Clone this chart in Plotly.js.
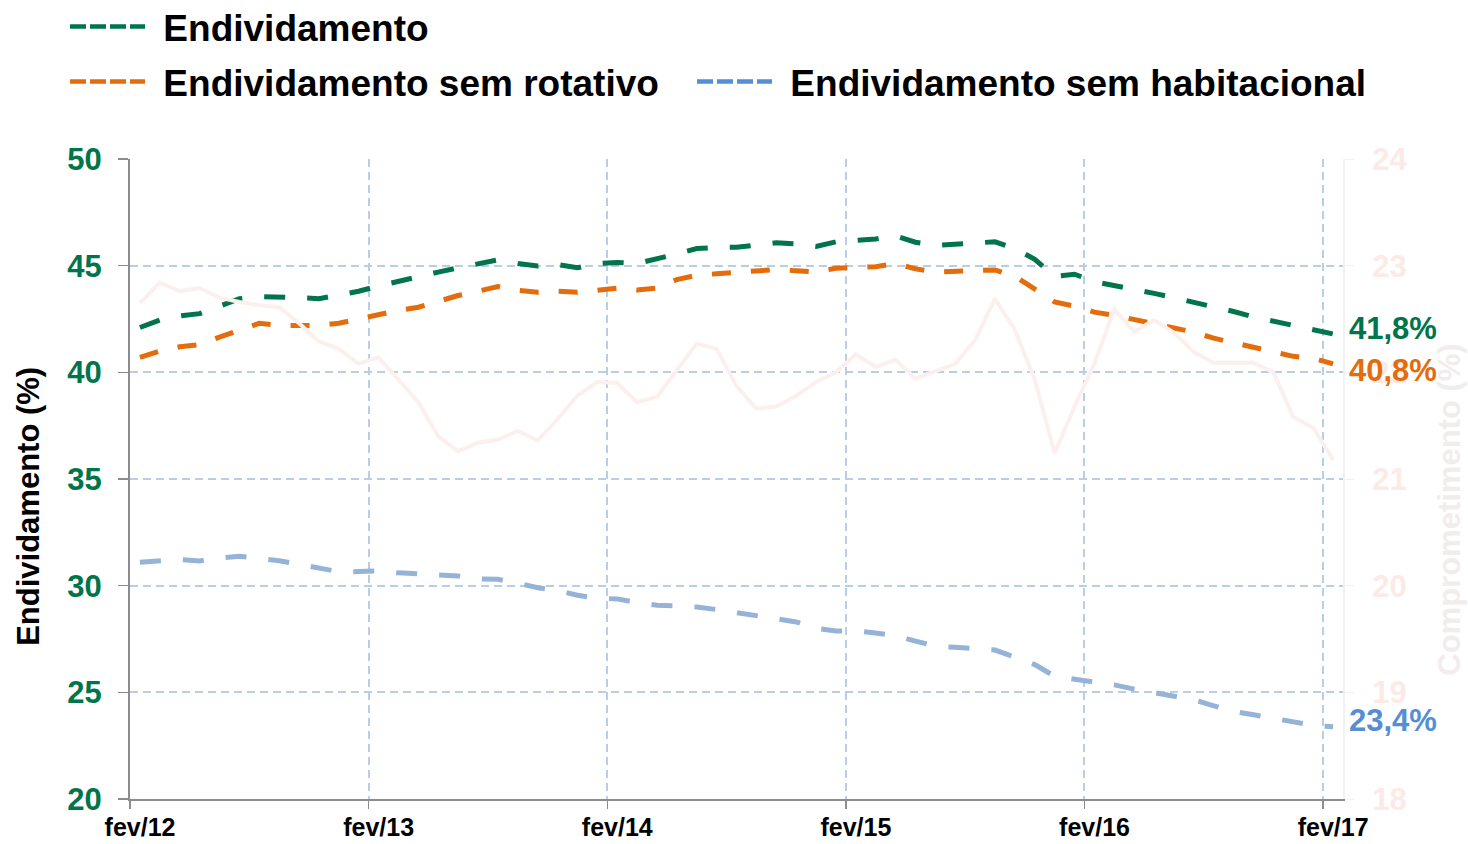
<!DOCTYPE html>
<html>
<head>
<meta charset="utf-8">
<script src="https://cdn.plot.ly/plotly-3.0.1.min.js"></script>
<style>
  html, body { margin: 0; padding: 0; background: #ffffff; }
  #chart { width: 1468px; height: 844px; }
</style>
</head>
<body>
<div id="chart"></div>
<script>
// ---- Data (monthly, fev/12 .. fev/17) ----
var tickLabels = ['fev/12', 'fev/13', 'fev/14', 'fev/15', 'fev/16', 'fev/17'];
var seriesNames = ['Endividamento', 'Endividamento sem rotativo', 'Endividamento sem habitacional', 'Comprometimento'];
var axisTitles = ['Endividamento (%)', 'Comprometimento (%)'];

var endividamento = [42.1, 42.45, 42.65, 42.75, 43.1, 43.45, 43.55, 43.55, 43.5, 43.45,
  43.6, 43.8, 44.05, 44.28, 44.45, 44.7, 44.9, 45.1, 45.27, 45.1,
  44.98, 45.05, 44.9, 45.1, 45.15, 45.1, 45.3, 45.55, 45.8, 45.86,
  45.86, 45.95, 46.07, 46.02, 45.9, 46.12, 46.2, 46.25, 46.4, 46.1,
  45.95, 46.0, 46.02, 46.12, 45.8, 45.3, 44.5, 44.6, 44.25, 44.08,
  43.9, 43.7, 43.5, 43.3, 43.05, 42.85, 42.6, 42.4, 42.15, 42.0, 41.8];

var semRotativo = [40.7, 41.0, 41.2, 41.3, 41.65, 42.0, 42.3, 42.2, 42.2, 42.2,
  42.3, 42.5, 42.72, 42.9, 43.05, 43.35, 43.6, 43.8, 44.02, 43.85,
  43.75, 43.8, 43.75, 43.85, 43.95, 43.86, 43.95, 44.35, 44.55, 44.62,
  44.67, 44.72, 44.82, 44.76, 44.7, 44.88, 44.91, 44.95, 45.1, 44.85,
  44.7, 44.73, 44.78, 44.8, 44.5, 43.9, 43.3, 43.1, 42.82, 42.67,
  42.5, 42.28, 42.08, 41.88, 41.6, 41.38, 41.12, 40.96, 40.75, 40.66, 40.4];

var semHabitacional = [31.1, 31.17, 31.22, 31.16, 31.3, 31.38, 31.3, 31.17, 31.0, 30.8,
  30.65, 30.66, 30.69, 30.6, 30.56, 30.52, 30.45, 30.32, 30.3, 30.12,
  29.9, 29.77, 29.55, 29.41, 29.38, 29.2, 29.08, 29.05, 29.0, 28.88,
  28.72, 28.6, 28.45, 28.3, 28.0, 27.88, 27.88, 27.78, 27.66, 27.4,
  27.17, 27.11, 27.06, 26.98, 26.65, 26.3, 25.75, 25.62, 25.52, 25.35,
  25.15, 24.98, 24.8, 24.65, 24.37, 24.1, 23.95, 23.8, 23.6, 23.45, 23.39];

var comprometimento = [22.65, 22.84, 22.76, 22.79, 22.7, 22.66, 22.63, 22.61, 22.46, 22.29,
  22.22, 22.08, 22.14, 21.93, 21.72, 21.4, 21.26, 21.34, 21.37, 21.45,
  21.36, 21.56, 21.78, 21.91, 21.9, 21.72, 21.77, 22.02, 22.27, 22.22,
  21.87, 21.66, 21.68, 21.78, 21.91, 22.0, 22.17, 22.05, 22.12, 21.94,
  22.01, 22.08, 22.3, 22.69, 22.4, 21.93, 21.24, 21.68, 22.08, 22.59,
  22.38, 22.49, 22.37, 22.19, 22.09, 22.09, 22.09, 22.0, 21.58, 21.48, 21.18];

var endLabels = ['41,8%', '40,8%', '23,4%'];

// ---- Build ----
var xIdx = endividamento.map(function (_, i) { return i; });
var tickPos = tickLabels.map(function (_, k) { return k * 12 - 0.5; });
var last = xIdx.length - 1;

var GREEN = '#00744A', ORANGE = '#E46C0A', BLUE_LINE = '#95B3D7', BLUE = '#558ED5', PINK = '#FBF0ED';
var GRID = '#B9CDE5';
var FONT = 'Liberation Sans, Arial, sans-serif';
var GAP = '\u00a0\u200a';

var traces = [
  { x: xIdx, y: comprometimento, yaxis: 'y2', mode: 'lines', name: seriesNames[3], showlegend: false,
    line: { color: PINK, width: 4 } },
  { x: xIdx, y: semHabitacional, mode: 'lines', name: seriesNames[2], showlegend: false,
    line: { color: BLUE_LINE, width: 5, dash: '21px,22px' } },
  { x: xIdx, y: semRotativo, mode: 'lines', name: seriesNames[1], showlegend: false,
    line: { color: ORANGE, width: 5, dash: '19px,20px' } },
  { x: xIdx, y: endividamento, mode: 'lines', name: seriesNames[0], showlegend: false,
    line: { color: GREEN, width: 5, dash: '21px,22px' } },
  // legend entries
  { x: [null], y: [null], mode: 'lines', name: GAP + seriesNames[0], legend: 'legend',
    line: { color: GREEN, width: 4.5, dash: '16px,4px' }, hoverinfo: 'skip' },
  { x: [null], y: [null], mode: 'lines', name: GAP + seriesNames[1], legend: 'legend2',
    line: { color: ORANGE, width: 4.5, dash: '16px,4px' }, hoverinfo: 'skip' },
  { x: [null], y: [null], mode: 'lines', name: GAP + seriesNames[2], legend: 'legend3',
    line: { color: BLUE, width: 4.5, dash: '16px,4px' }, hoverinfo: 'skip' }
];

var legendFont = { family: FONT, size: 37, color: '#000000', weight: 'bold' };
function leg(xpx, ypx) {
  return { x: (xpx - 130) / 1213, y: (799 - ypx) / 640, xanchor: 'left', yanchor: 'middle',
    orientation: 'h', font: legendFont, bgcolor: 'rgba(0,0,0,0)', itemwidth: 75 };
}

var layout = {
  width: 1468, height: 844,
  margin: { l: 130, r: 125, t: 159, b: 45, autoexpand: false },
  paper_bgcolor: '#ffffff', plot_bgcolor: '#ffffff',
  font: { family: FONT },
  showlegend: true,
  legend: leg(65, 27),
  legend2: leg(65, 82),
  legend3: leg(692, 82),
  xaxis: {
    range: [-0.5, 60.5], tickmode: 'array', tickvals: tickPos, ticktext: tickLabels,
    ticklabelshift: 10, ticklabelstandoff: -3,
    tickfont: { family: FONT, size: 25, color: '#000000', weight: 'bold' },
    showgrid: true, gridcolor: GRID, griddash: '8px,5px', gridwidth: 2,
    showline: true, linecolor: '#8C8C8C', linewidth: 2,
    ticks: 'outside', ticklen: 8, tickcolor: '#8C8C8C', tickwidth: 1.5,
    zeroline: false, fixedrange: true, automargin: false
  },
  yaxis: {
    range: [20, 50], dtick: 5, tick0: 20,
    tickfont: { family: FONT, size: 31, color: GREEN, weight: 'bold' },
    showgrid: true, gridcolor: GRID, griddash: '8px,5px', gridwidth: 2,
    showline: true, linecolor: '#8C8C8C', linewidth: 2,
    ticks: 'outside', ticklen: 10, tickcolor: '#8C8C8C', tickwidth: 1.5,
    ticklabelstandoff: 10, zeroline: false, automargin: false
  },
  yaxis2: {
    overlaying: 'y', side: 'right', range: [18, 24], dtick: 1, tick0: 18,
    tickfont: { family: FONT, size: 31, color: '#FCEAE7', weight: 'bold' },
    showgrid: false, zeroline: false, automargin: false,
    showline: true, linecolor: '#F2F2F2', linewidth: 2,
    ticks: 'outside', ticklen: 10, tickcolor: '#F2F2F2',
    ticklabelstandoff: 11
  },
  annotations: [
    { x: -0.0833, y: 0.458, xref: 'paper', yref: 'paper', text: axisTitles[0], textangle: -90,
      showarrow: false, xanchor: 'center', yanchor: 'middle',
      font: { family: FONT, size: 31, color: '#000000', weight: 'bold' } },
    { x: 1.0882, y: 0.452, xref: 'paper', yref: 'paper', text: axisTitles[1], textangle: -90,
      showarrow: false, xanchor: 'center', yanchor: 'middle',
      font: { family: FONT, size: 31, color: '#F1EDED', weight: 'bold' } },
    { x: last, y: endividamento[last], xref: 'x', yref: 'y', text: endLabels[0], showarrow: false,
      xanchor: 'left', yanchor: 'middle', xshift: 14, yshift: 5,
      font: { family: FONT, size: 31, color: GREEN, weight: 'bold' } },
    { x: last, y: semRotativo[last], xref: 'x', yref: 'y', text: endLabels[1], showarrow: false,
      xanchor: 'left', yanchor: 'middle', xshift: 14, yshift: -7,
      font: { family: FONT, size: 31, color: ORANGE, weight: 'bold' } },
    { x: last, y: semHabitacional[last], xref: 'x', yref: 'y', text: endLabels[2], showarrow: false,
      xanchor: 'left', yanchor: 'middle', xshift: 14, yshift: 6,
      font: { family: FONT, size: 31, color: BLUE, weight: 'bold' } }
  ]
};

Plotly.newPlot('chart', traces, layout, { displayModeBar: false, staticPlot: true });
</script>
</body>
</html>
